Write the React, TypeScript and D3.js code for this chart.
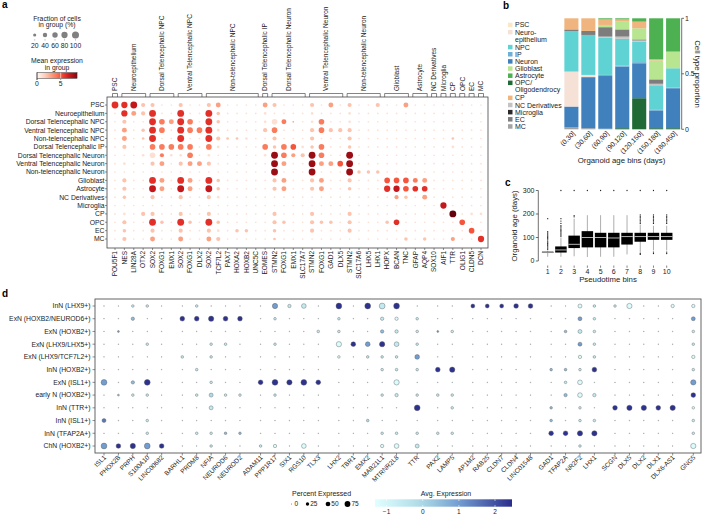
import React from "react";
import * as d3 from "d3";

const FONT = "Liberation Sans, Arial, Helvetica, sans-serif";

// ---------------- Panel a data ----------------
const aRows = [
  "PSC", "Neuroepithelium", "Dorsal Telencephalic NPC", "Ventral Telencephalic NPC",
  "Non-telencephalic NPC", "Dorsal Telencephalic IP", "Dorsal Telencephalic Neuron",
  "Ventral Telencephalic Neuron", "Non-telencephalic Neuron", "Glioblast", "Astrocyte",
  "NC Derivatives", "Microglia", "CP", "OPC", "EC", "MC",
];
const aCols = [
  "POU5F1", "NES", "LIN28A", "OTX2", "SOX2", "FOXG1", "EMX1", "SOX2", "FOXG1", "DLX2",
  "SOX2", "TCF7L2", "PAX7", "HOXA2", "HOXB2", "UNC5C", "EOMES", "STMN2", "FOXG1", "EMX1",
  "SLC17A7", "STMN2", "FOXG1", "GAD1", "DLX5", "STMN2", "SLC17A6", "LHX5", "LHX1", "HOPX",
  "BCAN", "TNC", "GFAP", "AQP4", "SOX10", "AIF1", "TTR", "OLIG1", "CLDN5", "DCN",
];
const aGroupSizes = [1, 3, 3, 3, 6, 1, 4, 4, 4, 3, 2, 1, 1, 1, 1, 1, 1];
// fraction-of-cells code per cell (0..9)
const aFrac = [
  "8784411411 4511115411 1415141141 1511111111",
  "1754811811 8311112111 1211121111 1111111111",
  "1411865861 8311112651 1261121111 1111111111",
  "1513861866 8211114611 1464441111 1111111111",
  "1512811811 8422211411 1411141111 1111112111",
  "1411666661 6211116366 2361131111 1111112111",
  "1112642261 2111112864 4861181111 1111111111",
  "1211451455 4111111851 1855681111 1111111111",
  "1111111111 1111111811 1811183331 1111111111",
  "1411851851 8311111451 1451141116 6655111111",
  "1411851851 8311111451 1451131117 7666111111",
  "1311411411 4211111111 1111111111 4315111111",
  "1111111111 1111111111 1111111111 1111171111",
  "1214411411 4111111411 1411141111 1111118122",
  "1411831831 8311111431 1433141113 6111111611",
  "1311411411 4213311311 1411141111 1111111161",
  "1411511511 5411111211 1111111111 1313114117",
];
// mean expression per cell (0..9)
const aExpr = [
  "6672211211 2311113211 1213121121 1311111111",
  "1632611611 6211111111 1111111111 1111111111",
  "1211643641 6211111143 1141111111 1111111111",
  "1312641644 6111112411 1242221111 1111111111",
  "1312611611 6222111211 1211121111 1111112111",
  "1211444441 4111114245 1241121111 1111111111",
  "1111141141 1111111843 2841181111 1111111111",
  "1111231233 2111111831 1833581111 1111111111",
  "1111111111 1111111811 1811182221 1111111111",
  "1211631631 6211111231 1231121115 5543111111",
  "1211731731 7211111231 1231121116 7566111111",
  "1211211211 2111111111 1111111111 3213111111",
  "1111111111 1111111111 1111111111 1111171111",
  "1112211211 2111111211 1211121111 1111119111",
  "1211621621 6211111221 1222121112 6111111511",
  "1211211211 2112211211 1211121111 1111111151",
  "1211311311 3211111211 1111111111 1212113116",
];
const aFracPct = [2, 6, 15, 25, 35, 50, 65, 80, 95, 100];
const aLegendFrac = [20, 40, 60, 80, 100];
const aLegendExprTicks = [0, 5];

// ---------------- Panel b data ----------------
const bBins = ["(0,30]", "(30,60]", "(60,90]", "(90,120]", "(120,150]", "(150,180]", "(180,450]"];
const bTypes = [
  "PSC", "Neuroepithelium", "NPC", "IP", "Neuron", "Glioblast", "Astrocyte",
  "OPC/Oligodendrocy", "CP", "NC Derivatives", "Microglia", "EC", "MC",
];
const bLegendLabels = [
  ["PSC"], ["Neuro-", "epithelium"], ["NPC"], ["IP"], ["Neuron"], ["Glioblast"], ["Astrocyte"],
  ["OPC/", "Oligodendrocy"], ["CP"], ["NC Derivatives"], ["Microglia"], ["EC"], ["MC"],
];
const bColors = [
  "#fbe7c6", "#f6e1d7", "#5fd3d3", "#6cb0d8", "#3f80bd", "#b7e590", "#4db152",
  "#1f6a35", "#f0b57e", "#c3c3c3", "#2a2a2a", "#7d7d7d", "#a3a3a3",
];
const bPSC = [0, 0, 0, 0, 0, 0, 0];
const bNE = [0.315, 0.02, 0, 0, 0, 0, 0];
const bNPC = [0.365, 0.36, 0.335, 0.24, 0.185, 0.21, 0.175];
const bIP = [0, 0, 0.01, 0.01, 0.01, 0.01, 0.005];
const bNeuron = [0.185, 0.46, 0.475, 0.555, 0.315, 0.16, 0.36];
const bGlio = [0, 0, 0.02, 0.07, 0.1, 0.17, 0.15];
const bAstro = [0, 0, 0.01, 0.01, 0.03, 0.37, 0.3];
const bOPC = [0, 0, 0, 0.01, 0.28, 0.01, 0.01];
const bCP = [0.1, 0.114, 0.05, 0.02, 0.06, 0.01, 0];
const bNC = [0, 0, 0.01, 0.02, 0.01, 0.02, 0];
const bMicro = [0, 0, 0, 0, 0, 0, 0];
const bEC = [0.015, 0.036, 0.085, 0.065, 0.01, 0.04, 0];
const bMC = [0.02, 0.01, 0.005, 0, 0, 0, 0];
const bStackOrder = [
  "MC", "OPC/Oligodendrocy", "Neuron", "IP", "Neuroepithelium", "NPC", "NC Derivatives",
  "EC", "Microglia", "Glioblast", "CP", "PSC", "Astrocyte",
];
const bTicks = [0, 0.5, 1];

// ---------------- Panel c data ----------------
const cBins = ["1", "2", "3", "4", "5", "6", "7", "8", "9", "10"];
const cLow = [18, 18, 20, 17, 18, 18, 28, 35, 45, 45];
const cQ1 = [34, 36, 55, 58, 58, 58, 70, 82, 90, 90];
const cMed = [37, 47, 71, 100, 100, 98, 104, 104, 104, 104];
const cQ3 = [40, 62, 108, 127, 120, 120, 120, 120, 120, 120];
const cHigh = [45, 100, 180, 195, 195, 195, 195, 155, 150, 150];
const cOutliers = [
  [50, 55, 60, 65, 70, 75, 80, 85, 90, 95, 100, 105, 110, 115, 120, 125, 180],
  [105, 110, 115, 120, 125, 130, 135, 140, 145, 150, 160, 170, 180, 300],
  [188, 193, 300],
  [300],
  [300],
  [300],
  [300],
  [28, 32, 160, 166, 172, 178, 184, 190, 196, 300],
  [32, 38, 160, 166, 172, 178, 184, 190, 196, 300],
  [32, 38, 160, 166, 172, 178, 184, 190, 196, 300],
];
const cTicks = [0, 100, 200, 300];

// ---------------- Panel d data ----------------
const dRows = [
  "InN (LHX9+)", "ExN (HOXB2/NEUROD6+)", "ExN (HOXB2+)", "ExN (LHX9/LHX5+)",
  "ExN (LHX9/TCF7L2+)", "InN (HOXB2+)", "ExN (ISL1+)", "early N (HOXB2+)",
  "InN (TTR+)", "InN (ISL1+)", "InN (TFAP2A+)", "ChN (HOXB2+)",
];
const dGenes = [
  "ISL1", "PHOX2B", "PRPH", "S100A10", "LINC00682", "BARHL1", "PRDM8", "NFIA", "NEUROD6",
  "NEUROD2", "ADAM11", "PPP1R17", "SIX1", "RGS10", "TLX3", "LHX2", "TBR1", "EMX2", "MAB21L1",
  "MTRNR2L8", "TTR", "PAX2", "LAMP5", "AP1M2", "RAB25", "CLDN7", "CLDN4", "LINC01548", "GAD1",
  "TFAP2A", "NR2F2", "LHX1", "SCGN", "DLX5", "DLX2", "DLX1", "DLX6-AS1", "GNG5",
];
const dGroupSizes = [5, 5, 5, 5, 1, 2, 5, 4, 5, 1];
// percent expressed code (0..7)
const dPct = [
  "00220 02000 06350 70777 0 00 44455 0042 26003 3",
  "00300 55655 02000 20033 2 00 00000 0042 00000 4",
  "01000 00000 00002 20033 2 12 00000 0242 00000 2",
  "00020 00220 02000 65565 2 00 00000 0042 00000 2",
  "00000 20200 00000 20222 5 00 00000 0032 00000 3",
  "00000 02000 00000 00022 2 56 00000 2225 00000 2",
  "70370 00200 57675 00006 0 00 00000 0250 00000 6",
  "01220 02422 02000 00023 2 22 00000 0353 00000 5",
  "00000 00400 00000 00000 7 02 00000 2020 56656 2",
  "40020 00000 00000 00200 0 00 00000 2022 00000 2",
  "00020 02222 00000 00022 2 22 00000 5566 00000 2",
  "75675 00200 23050 00035 4 00 00000 0020 00000 6",
];
// average expression code (0..7)
const dExp = [
  "11111 11111 14111 71717 1 11 77777 1101 10110 0",
  "11311 77777 11111 11110 1 11 11111 1141 11111 4",
  "14111 11111 11111 11131 1 41 11111 1311 11111 1",
  "11111 11111 11111 07471 1 11 11111 1141 11111 1",
  "11111 11111 11111 01111 4 11 11111 1101 11111 0",
  "11111 11111 11111 11111 1 77 11111 3317 11111 1",
  "41371 11111 77777 11110 1 11 11111 1101 11111 4",
  "13111 11211 11111 11111 1 11 11111 1301 11111 7",
  "11111 11111 11111 11111 7 11 11111 3111 77777 0",
  "51111 11111 11111 11211 1 11 11111 3111 11111 1",
  "11111 11133 11111 11111 1 11 11111 7777 11111 1",
  "47747 11111 10101 11100 1 11 11111 1111 11111 0",
];
const dPctLevels = [1, 8, 15, 25, 35, 50, 62, 75];
const dExpLevels = [-1.2, -0.6, -0.1, 0.5, 1.0, 1.5, 2.0, 2.4];
const dLegendPct = [0, 25, 50, 75];
const dLegendExpTicks = [-1, 0, 1, 2];

const clean = (s: string) => s.replace(/\s+/g, "").split("").map(Number);

export default function App() {
  const txt = "#222";

  // ---------- Panel a ----------
  const ax = d3.scaleLinear().domain([0, aCols.length - 1]).range([115, 481]);
  const ay = d3.scalePoint<string>().domain(aRows).range([105, 239]);
  const aR = (pct: number) => Math.sqrt(pct / 100) * 3.5;
  const aColor = d3.scaleSequential(d3.interpolateReds).domain([0, 9]);
  const aBox = { x0: 107, x1: 488, y0: 97, y1: 248 };
  const aGroups: { name: string; a: number; b: number }[] = [];
  {
    let s = 0;
    aGroupSizes.forEach((n, g) => {
      aGroups.push({ name: aRows[g], a: s, b: s + n - 1 });
      s += n;
    });
  }
  const aLegX = d3.scaleLinear().domain([0, 5]).range([37, 60.7]);
  const aLegEnd = 8.45;

  // ---------- Panel b ----------
  const bx = d3.scaleBand<string>().domain(bBins).range([563, 681.5]).paddingInner(0.17).paddingOuter(0.08);
  const by = d3.scaleLinear().domain([0, 1]).range([129.3, 18.3]);
  const bValues: Record<string, number[]> = {
    PSC: bPSC, Neuroepithelium: bNE, NPC: bNPC, IP: bIP, Neuron: bNeuron, Glioblast: bGlio,
    Astrocyte: bAstro, "OPC/Oligodendrocy": bOPC, CP: bCP, "NC Derivatives": bNC,
    Microglia: bMicro, EC: bEC, MC: bMC,
  };
  const bTable = bBins.map((bin, i) => {
    const row: any = { bin };
    bTypes.forEach((t) => (row[t] = bValues[t][i]));
    return row;
  });
  const bStack = d3.stack<any>().keys(bStackOrder)(bTable);
  const bColorOf = d3.scaleOrdinal<string, string>().domain(bTypes).range(bColors);
  const bLegendY: number[] = [];
  {
    let y = 25;
    bLegendLabels.forEach((l) => {
      bLegendY.push(y);
      y += l.length === 2 ? 15 : 7.15;
    });
  }

  // ---------- Panel c ----------
  const cx = d3.scalePoint<string>().domain(cBins).range([547.7, 666.7]);
  const cy = d3.scaleLinear().domain([0, 300]).range([261, 190.5]);
  const cBW = 11.5;

  // ---------- Panel d ----------
  const dGroupOf: number[] = [];
  dGroupSizes.forEach((n, g) => {
    for (let i = 0; i < n; i++) dGroupOf.push(g);
  });
  const gapFrac = 0.43;
  const dxs = d3.scaleLinear().domain([0, dGenes.length - 1 + (dGroupSizes.length - 1) * gapFrac]).range([104, 693.3]);
  const dx = (i: number) => dxs(i + dGroupOf[i] * gapFrac);
  const dy = d3.scalePoint<string>().domain(dRows).range([306, 446]);
  const dR = (pct: number) => Math.max(0.3, Math.sqrt(pct / 75) * 2.9);
  const dColor = d3
    .scaleLinear<string>()
    .domain([-1.32, 0, 1, 2.47])
    .range(["#e0ffff", "#acd9e6", "#729dd1", "#2b2d8c"])
    .interpolate(d3.interpolateRgb)
    .clamp(true);
  const dBox = { x0: 95, x1: 701, y0: 299, y1: 453 };
  const dLegX = d3.scaleLinear().domain([-1.32, 2.47]).range([375, 512]);
  const dGradStops = d3.range(0, 1.0001, 0.1).map((t) => ({ t, c: dColor(-1.32 + t * (2.47 + 1.32)) }));
  const aGradStops = d3.range(0, 1.0001, 0.1).map((t) => ({ t, c: aColor(t * aLegEnd) }));

  const fs = 6.8;

  return (
    <svg
      width={704}
      height={515}
      viewBox="0 0 704 515"
      style={{ position: "absolute", left: 0, top: 0, background: "#fff" }}
      fontFamily={FONT}
    >
      <defs>
        <linearGradient id="gradA" x1="0" x2="1" y1="0" y2="0">
          {aGradStops.map((s) => (
            <stop key={s.t} offset={s.t} stopColor={s.c} />
          ))}
        </linearGradient>
        <linearGradient id="gradD" x1="0" x2="1" y1="0" y2="0">
          {dGradStops.map((s) => (
            <stop key={s.t} offset={s.t} stopColor={s.c} />
          ))}
        </linearGradient>
      </defs>
      <rect x={0} y={0} width={704} height={515} fill="#fff" />

      {/* Panel letters */}
      <text x={2} y={8} fontSize={10} fontWeight="bold">a</text>
      <text x={503} y={8.5} fontSize={10} fontWeight="bold">b</text>
      <text x={505} y={186} fontSize={10} fontWeight="bold">c</text>
      <text x={2} y={297} fontSize={10} fontWeight="bold">d</text>

      {/* ===== Panel a legend ===== */}
      <g fill={txt} fontSize={6.8} textAnchor="middle">
        <text x={57} y={20.5}>Fraction of cells</text>
        <text x={57} y={27.3}>in group (%)</text>
        {aLegendFrac.map((f, i) => {
          const x = [34.7, 45, 55, 64.5, 75.5][i];
          return (
            <g key={f}>
              <circle cx={x} cy={35} r={aR(f)} fill="#808080" />
              <line x1={x} x2={x} y1={39.3} y2={40.5} stroke="#666" strokeWidth={0.5} />
              <text x={x} y={47.5}>{f}</text>
            </g>
          );
        })}
        <text x={57} y={63}>Mean expression</text>
        <text x={57} y={70}>in group</text>
        <rect x={aLegX(0)} y={72.7} width={aLegX(aLegEnd) - aLegX(0)} height={5.6} fill="url(#gradA)" stroke="#333" strokeWidth={0.5} />
        {aLegendExprTicks.map((t) => (
          <g key={t}>
            <line x1={aLegX(t)} x2={aLegX(t)} y1={72.7} y2={80} stroke={t === 0 ? "#333" : "#fff"} strokeWidth={0.6} />
            <line x1={aLegX(t)} x2={aLegX(t)} y1={78.3} y2={80} stroke="#333" strokeWidth={0.5} />
            <text x={aLegX(t)} y={86}>{t}</text>
          </g>
        ))}
      </g>

      {/* ===== Panel a group brackets ===== */}
      <g>
        {aGroups.map((g) => {
          const x0 = ax(g.a) - 2.5;
          const x1 = ax(g.b) + 2.5;
          const xc = (ax(g.a) + ax(g.b)) / 2;
          return (
            <g key={g.name}>
              <path d={`M${x0},${aBox.y0}V${93.5}H${x1}V${aBox.y0}`} fill="none" stroke="#333" strokeWidth={0.6} />
              <text
                transform={`translate(${xc},${91}) rotate(-90)`}
                dy="0.35em"
                fontSize={6.5}
                fill={txt}
                textAnchor="start"
              >
                {g.name}
              </text>
            </g>
          );
        })}
      </g>

      {/* ===== Panel a dot plot ===== */}
      <rect x={aBox.x0} y={aBox.y0} width={aBox.x1 - aBox.x0} height={aBox.y1 - aBox.y0} fill="none" stroke="#444" strokeWidth={0.8} />
      <g>
        {aRows.map((r, ri) => {
          const fr = clean(aFrac[ri]);
          const ex = clean(aExpr[ri]);
          return (
            <g key={r}>
              <line x1={aBox.x0 - 2} x2={aBox.x0} y1={ay(r)} y2={ay(r)} stroke="#444" strokeWidth={0.6} />
              <text x={aBox.x0 - 2.5} y={ay(r)} dy="0.35em" textAnchor="end" fontSize={fs} fill={txt}>
                {r}
              </text>
              {aCols.map((c, ci) => (
                <circle key={ci} cx={ax(ci)} cy={ay(r)} r={aR(aFracPct[fr[ci]])} fill={aColor(ex[ci])} />
              ))}
            </g>
          );
        })}
        {aCols.map((c, ci) => (
          <g key={ci}>
            <line x1={ax(ci)} x2={ax(ci)} y1={aBox.y1} y2={aBox.y1 + 2} stroke="#444" strokeWidth={0.6} />
            <text
              transform={`translate(${ax(ci)},${aBox.y1 + 3}) rotate(-90)`}
              dy="0.35em"
              textAnchor="end"
              fontSize={6.5}
              fill={txt}
            >
              {c}
            </text>
          </g>
        ))}
      </g>

      {/* ===== Panel b ===== */}
      <g>
        {bStack.map((layer) => (
          <g key={layer.key} fill={bColorOf(layer.key as string)}>
            {layer.map((d, i) => (
              <rect
                key={i}
                x={bx(bBins[i])}
                y={by(d[1])}
                width={bx.bandwidth()}
                height={Math.max(0, by(d[0]) - by(d[1]))}
              />
            ))}
          </g>
        ))}
        <line x1={681.7} x2={681.7} y1={by(1)} y2={by(0)} stroke="#333" strokeWidth={0.7} />
        {bTicks.map((t) => (
          <g key={t}>
            <line x1={681.7} x2={684} y1={by(t)} y2={by(t)} stroke="#333" strokeWidth={0.7} />
            <text x={685} y={by(t)} dy="0.35em" fontSize={7} fill={txt}>
              {t}
            </text>
          </g>
        ))}
        <text transform={`translate(697.5,74) rotate(90)`} textAnchor="middle" fontSize={7.8} fill={txt} dy="0.35em">
          Cell type proportion
        </text>
        {bBins.map((b) => (
          <text
            key={b}
            transform={`translate(${(bx(b) as number) + bx.bandwidth() / 2 + 4},${134}) rotate(-45)`}
            textAnchor="end"
            fontSize={6.8}
            fill={txt}
          >
            {b}
          </text>
        ))}
        <text x={621.5} y={163} textAnchor="middle" fontSize={7.8} fill={txt}>
          Organoid age bins (days)
        </text>
        {bTypes.map((t, i) => (
          <g key={t}>
            <rect x={508} y={bLegendY[i] - 2.3} width={4.5} height={4.5} fill={bColors[i]} />
            {bLegendLabels[i].map((l, j) => (
              <text key={j} x={515} y={bLegendY[i] + j * 7} dy="0.35em" fontSize={7} fill={txt}>
                {l}
              </text>
            ))}
          </g>
        ))}
      </g>

      {/* ===== Panel c ===== */}
      <g>
        <line x1={538.3} x2={538.3} y1={cy(0)} y2={cy(300)} stroke="#333" strokeWidth={0.7} />
        {cTicks.map((t) => (
          <g key={t}>
            <line x1={535.8} x2={538.3} y1={cy(t)} y2={cy(t)} stroke="#333" strokeWidth={0.7} />
            <text x={534.5} y={cy(t)} dy="0.35em" textAnchor="end" fontSize={7} fill={txt}>
              {t}
            </text>
          </g>
        ))}
        <text transform={`translate(514,226) rotate(-90)`} textAnchor="middle" fontSize={7.8} fill={txt} dy="0.35em">
          Organoid age (days)
        </text>
        {cBins.map((b, i) => {
          const x = cx(b) as number;
          return (
            <g key={b}>
              <line x1={x} x2={x} y1={cy(cLow[i])} y2={cy(cHigh[i])} stroke="#999" strokeWidth={0.8} />
              <rect
                x={x - cBW / 2}
                y={cy(cQ3[i])}
                width={cBW}
                height={Math.max(0.8, cy(cQ1[i]) - cy(cQ3[i]))}
                fill="#000"
              />
              <line x1={x - cBW / 2} x2={x + cBW / 2} y1={cy(cMed[i])} y2={cy(cMed[i])} stroke="#fff" strokeWidth={0.7} />
              {cOutliers[i].map((o, k) => (
                <circle key={k} cx={x} cy={cy(o)} r={0.65} fill="#222" />
              ))}
              <line x1={x} x2={x} y1={265.5} y2={267.8} stroke="#333" strokeWidth={0.6} />
              <text x={x} y={274} textAnchor="middle" fontSize={7} fill={txt}>
                {b}
              </text>
            </g>
          );
        })}
        <text x={608} y={281.5} textAnchor="middle" fontSize={7.8} fill={txt}>
          Pseudotime bins
        </text>
      </g>

      {/* ===== Panel d ===== */}
      <rect x={dBox.x0} y={dBox.y0} width={dBox.x1 - dBox.x0} height={dBox.y1 - dBox.y0} fill="none" stroke="#555" strokeWidth={0.9} />
      <g>
        {dRows.map((r, ri) => {
          const p = clean(dPct[ri]);
          const e = clean(dExp[ri]);
          return (
            <g key={r}>
              <line x1={dBox.x0 - 2.5} x2={dBox.x0} y1={dy(r)} y2={dy(r)} stroke="#444" strokeWidth={0.6} />
              <text x={dBox.x0 - 4.5} y={dy(r)} dy="0.35em" textAnchor="end" fontSize={fs} fill={txt}>
                {r}
              </text>
              {dGenes.map((g, gi) => (
                <circle
                  key={gi}
                  cx={dx(gi)}
                  cy={dy(r)}
                  r={dR(dPctLevels[p[gi]])}
                  fill={dColor(dExpLevels[e[gi]])}
                  stroke="#555"
                  strokeWidth={0.4}
                />
              ))}
            </g>
          );
        })}
        {dGenes.map((g, gi) => (
          <g key={gi}>
            <line x1={dx(gi)} x2={dx(gi)} y1={dBox.y1} y2={dBox.y1 + 2.5} stroke="#444" strokeWidth={0.6} />
            <text
              transform={`translate(${dx(gi) + 2.5},${dBox.y1 + 5}) rotate(-45)`}
              textAnchor="end"
              fontSize={6.5}
              fill={txt}
            >
              {g}
            </text>
          </g>
        ))}
      </g>

      {/* Panel d legends */}
      <g fontSize={7} fill={txt}>
        <text x={292} y={495.5}>Percent Expressed</text>
        {dLegendPct.map((p, i) => {
          const x = [291.5, 307.5, 328, 347.5][i];
          return (
            <g key={p}>
              <circle cx={x} cy={504} r={p === 0 ? 0.4 : dR(p)} fill="#000" />
              <text x={x + (p === 0 ? 3 : dR(p) + 1)} y={504} dy="0.35em" fontSize={6.5}>
                {p}
              </text>
            </g>
          );
        })}
        <text x={446} y={495.5} textAnchor="middle">Avg. Expression</text>
        <rect x={375} y={499.3} width={137} height={7.4} fill="url(#gradD)" />
        {dLegendExpTicks.map((t) => (
          <g key={t}>
            <line x1={dLegX(t)} x2={dLegX(t)} y1={499.3} y2={501} stroke="#fff" strokeWidth={0.6} />
            <line x1={dLegX(t)} x2={dLegX(t)} y1={505} y2={506.7} stroke="#fff" strokeWidth={0.6} />
            <text x={dLegX(t)} y={513.5} textAnchor="middle" fontSize={6.5}>
              {t < 0 ? `\u2212${Math.abs(t)}` : t}
            </text>
          </g>
        ))}
      </g>
    </svg>
  );
}
